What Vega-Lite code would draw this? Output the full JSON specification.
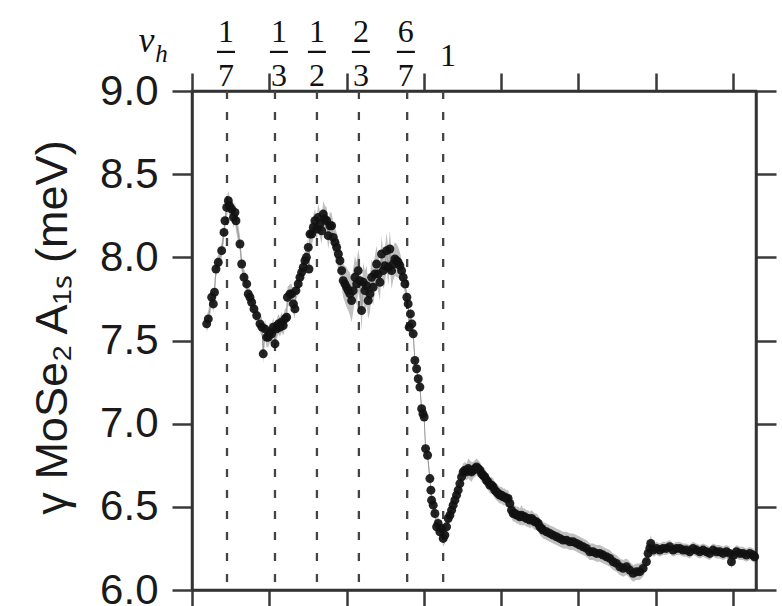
{
  "$schema": "https://vega.github.io/schema/vega-lite/v6.json",
  "width": 564,
  "height": 499,
  "autosize": "none",
  "padding": {"left": 192, "top": 91, "right": 26, "bottom": 16},
  "background": "white",
  "config": {"view": {"stroke": "#333", "strokeWidth": 2.5}, "axis": {"grid": false}},
  "datasets": {
    "series": [
      {"x":0.190,"y":7.60,"e":0.05},{"x":0.211,"y":7.63,"e":0.05},{"x":0.255,"y":7.76,"e":0.05},{"x":0.276,"y":7.72,"e":0.05},{"x":0.291,"y":7.79,"e":0.05},{"x":0.310,"y":7.93,"e":0.05},{"x":0.340,"y":7.97,"e":0.05},{"x":0.384,"y":8.04,"e":0.05},{"x":0.414,"y":8.15,"e":0.05},{"x":0.427,"y":8.22,"e":0.05},{"x":0.449,"y":8.30,"e":0.06},{"x":0.470,"y":8.34,"e":0.06},{"x":0.485,"y":8.31,"e":0.06},{"x":0.514,"y":8.29,"e":0.06},{"x":0.537,"y":8.24,"e":0.06},{"x":0.556,"y":8.27,"e":0.06},{"x":0.569,"y":8.22,"e":0.06},{"x":0.621,"y":8.08,"e":0.05},{"x":0.643,"y":7.96,"e":0.05},{"x":0.673,"y":7.88,"e":0.05},{"x":0.708,"y":7.84,"e":0.05},{"x":0.728,"y":7.78,"e":0.05},{"x":0.750,"y":7.76,"e":0.05},{"x":0.772,"y":7.73,"e":0.05},{"x":0.802,"y":7.69,"e":0.05},{"x":0.837,"y":7.65,"e":0.05},{"x":0.880,"y":7.60,"e":0.05},{"x":0.906,"y":7.58,"e":0.06},{"x":0.922,"y":7.42,"e":0.06},{"x":0.944,"y":7.57,"e":0.06},{"x":0.966,"y":7.52,"e":0.06},{"x":0.987,"y":7.52,"e":0.06},{"x":1.009,"y":7.55,"e":0.06},{"x":1.031,"y":7.54,"e":0.06},{"x":1.054,"y":7.58,"e":0.06},{"x":1.074,"y":7.48,"e":0.06},{"x":1.096,"y":7.57,"e":0.06},{"x":1.119,"y":7.60,"e":0.06},{"x":1.138,"y":7.58,"e":0.06},{"x":1.158,"y":7.61,"e":0.06},{"x":1.181,"y":7.59,"e":0.06},{"x":1.203,"y":7.63,"e":0.06},{"x":1.225,"y":7.64,"e":0.06},{"x":1.235,"y":7.76,"e":0.06},{"x":1.268,"y":7.78,"e":0.06},{"x":1.290,"y":7.78,"e":0.06},{"x":1.313,"y":7.72,"e":0.06},{"x":1.332,"y":7.69,"e":0.06},{"x":1.345,"y":7.80,"e":0.06},{"x":1.375,"y":7.84,"e":0.06},{"x":1.397,"y":7.88,"e":0.06},{"x":1.419,"y":7.91,"e":0.06},{"x":1.440,"y":7.94,"e":0.06},{"x":1.462,"y":7.98,"e":0.06},{"x":1.481,"y":8.00,"e":0.06},{"x":1.505,"y":8.06,"e":0.06},{"x":1.514,"y":7.93,"e":0.06},{"x":1.527,"y":8.14,"e":0.07},{"x":1.549,"y":8.14,"e":0.07},{"x":1.570,"y":8.18,"e":0.07},{"x":1.591,"y":8.22,"e":0.07},{"x":1.613,"y":8.17,"e":0.07},{"x":1.634,"y":8.24,"e":0.08},{"x":1.656,"y":8.20,"e":0.08},{"x":1.678,"y":8.16,"e":0.08},{"x":1.699,"y":8.26,"e":0.08},{"x":1.721,"y":8.23,"e":0.08},{"x":1.743,"y":8.22,"e":0.08},{"x":1.763,"y":8.13,"e":0.08},{"x":1.785,"y":8.19,"e":0.08},{"x":1.807,"y":8.19,"e":0.08},{"x":1.828,"y":8.12,"e":0.09},{"x":1.850,"y":8.09,"e":0.09},{"x":1.872,"y":8.06,"e":0.09},{"x":1.895,"y":8.02,"e":0.09},{"x":1.915,"y":7.98,"e":0.10},{"x":1.937,"y":7.92,"e":0.10},{"x":1.957,"y":7.86,"e":0.10},{"x":1.979,"y":7.84,"e":0.11},{"x":2.001,"y":7.82,"e":0.12},{"x":2.022,"y":7.80,"e":0.12},{"x":2.044,"y":7.78,"e":0.13},{"x":2.066,"y":7.74,"e":0.13},{"x":2.086,"y":7.80,"e":0.13},{"x":2.109,"y":7.88,"e":0.13},{"x":2.131,"y":7.84,"e":0.13},{"x":2.151,"y":7.92,"e":0.13},{"x":2.173,"y":7.86,"e":0.13},{"x":2.195,"y":7.68,"e":0.12},{"x":2.216,"y":7.85,"e":0.12},{"x":2.238,"y":7.80,"e":0.12},{"x":2.260,"y":7.83,"e":0.12},{"x":2.281,"y":7.74,"e":0.11},{"x":2.303,"y":7.78,"e":0.11},{"x":2.325,"y":7.88,"e":0.11},{"x":2.345,"y":7.82,"e":0.11},{"x":2.367,"y":7.90,"e":0.11},{"x":2.389,"y":7.96,"e":0.11},{"x":2.410,"y":7.90,"e":0.11},{"x":2.432,"y":7.85,"e":0.11},{"x":2.454,"y":8.02,"e":0.11},{"x":2.475,"y":7.92,"e":0.11},{"x":2.497,"y":7.95,"e":0.11},{"x":2.519,"y":8.04,"e":0.11},{"x":2.540,"y":7.94,"e":0.11},{"x":2.561,"y":8.05,"e":0.11},{"x":2.583,"y":7.92,"e":0.11},{"x":2.604,"y":7.96,"e":0.10},{"x":2.626,"y":7.99,"e":0.10},{"x":2.648,"y":7.98,"e":0.10},{"x":2.669,"y":7.97,"e":0.09},{"x":2.691,"y":7.95,"e":0.08},{"x":2.713,"y":7.92,"e":0.07},{"x":2.734,"y":7.88,"e":0.06},{"x":2.756,"y":7.84,"e":0.05},{"x":2.781,"y":7.76,"e":0.04},{"x":2.798,"y":7.72,"e":0.04},{"x":2.811,"y":7.58,"e":0.04},{"x":2.827,"y":7.66,"e":0.04},{"x":2.846,"y":7.60,"e":0.04},{"x":2.863,"y":7.54,"e":0.04},{"x":2.885,"y":7.38,"e":0.03},{"x":2.907,"y":7.33,"e":0.03},{"x":2.928,"y":7.27,"e":0.03},{"x":2.950,"y":7.22,"e":0.03},{"x":2.972,"y":7.09,"e":0.03},{"x":2.989,"y":7.06,"e":0.03},{"x":3.005,"y":7.04,"e":0.03},{"x":3.023,"y":6.85,"e":0.03},{"x":3.049,"y":6.81,"e":0.03},{"x":3.079,"y":6.67,"e":0.03},{"x":3.092,"y":6.60,"e":0.03},{"x":3.101,"y":6.54,"e":0.04},{"x":3.122,"y":6.51,"e":0.04},{"x":3.144,"y":6.46,"e":0.04},{"x":3.166,"y":6.38,"e":0.05},{"x":3.186,"y":6.40,"e":0.05},{"x":3.208,"y":6.35,"e":0.05},{"x":3.230,"y":6.37,"e":0.05},{"x":3.251,"y":6.31,"e":0.05},{"x":3.273,"y":6.33,"e":0.05},{"x":3.295,"y":6.38,"e":0.05},{"x":3.316,"y":6.43,"e":0.04},{"x":3.338,"y":6.45,"e":0.04},{"x":3.360,"y":6.48,"e":0.04},{"x":3.380,"y":6.51,"e":0.04},{"x":3.402,"y":6.54,"e":0.04},{"x":3.424,"y":6.57,"e":0.04},{"x":3.445,"y":6.60,"e":0.04},{"x":3.467,"y":6.64,"e":0.04},{"x":3.489,"y":6.68,"e":0.05},{"x":3.510,"y":6.71,"e":0.05},{"x":3.532,"y":6.72,"e":0.05},{"x":3.554,"y":6.71,"e":0.05},{"x":3.575,"y":6.73,"e":0.06},{"x":3.596,"y":6.72,"e":0.06},{"x":3.618,"y":6.71,"e":0.06},{"x":3.639,"y":6.72,"e":0.05},{"x":3.661,"y":6.73,"e":0.05},{"x":3.683,"y":6.74,"e":0.05},{"x":3.704,"y":6.73,"e":0.05},{"x":3.726,"y":6.72,"e":0.05},{"x":3.748,"y":6.70,"e":0.05},{"x":3.768,"y":6.69,"e":0.05},{"x":3.790,"y":6.68,"e":0.05},{"x":3.812,"y":6.66,"e":0.05},{"x":3.833,"y":6.65,"e":0.05},{"x":3.855,"y":6.63,"e":0.05},{"x":3.877,"y":6.63,"e":0.05},{"x":3.898,"y":6.62,"e":0.05},{"x":3.920,"y":6.60,"e":0.05},{"x":3.942,"y":6.59,"e":0.05},{"x":3.962,"y":6.58,"e":0.05},{"x":3.984,"y":6.57,"e":0.05},{"x":4.006,"y":6.57,"e":0.05},{"x":4.027,"y":6.56,"e":0.05},{"x":4.049,"y":6.56,"e":0.05},{"x":4.071,"y":6.55,"e":0.05},{"x":4.092,"y":6.55,"e":0.05},{"x":4.114,"y":6.52,"e":0.05},{"x":4.136,"y":6.48,"e":0.05},{"x":4.157,"y":6.46,"e":0.05},{"x":4.179,"y":6.46,"e":0.05},{"x":4.201,"y":6.45,"e":0.05},{"x":4.221,"y":6.45,"e":0.05},{"x":4.243,"y":6.44,"e":0.05},{"x":4.265,"y":6.45,"e":0.06},{"x":4.286,"y":6.44,"e":0.05},{"x":4.308,"y":6.44,"e":0.05},{"x":4.330,"y":6.43,"e":0.05},{"x":4.351,"y":6.43,"e":0.05},{"x":4.373,"y":6.42,"e":0.05},{"x":4.395,"y":6.43,"e":0.05},{"x":4.415,"y":6.42,"e":0.05},{"x":4.437,"y":6.41,"e":0.05},{"x":4.459,"y":6.41,"e":0.05},{"x":4.480,"y":6.40,"e":0.05},{"x":4.502,"y":6.38,"e":0.05},{"x":4.524,"y":6.37,"e":0.05},{"x":4.545,"y":6.36,"e":0.05},{"x":4.589,"y":6.35,"e":0.05},{"x":4.631,"y":6.34,"e":0.05},{"x":4.674,"y":6.33,"e":0.05},{"x":4.718,"y":6.32,"e":0.05},{"x":4.761,"y":6.31,"e":0.05},{"x":4.803,"y":6.30,"e":0.05},{"x":4.847,"y":6.30,"e":0.05},{"x":4.890,"y":6.29,"e":0.05},{"x":4.933,"y":6.29,"e":0.05},{"x":4.977,"y":6.28,"e":0.05},{"x":5.019,"y":6.27,"e":0.05},{"x":5.062,"y":6.26,"e":0.05},{"x":5.106,"y":6.25,"e":0.05},{"x":5.149,"y":6.23,"e":0.05},{"x":5.192,"y":6.23,"e":0.05},{"x":5.235,"y":6.22,"e":0.05},{"x":5.278,"y":6.22,"e":0.05},{"x":5.321,"y":6.21,"e":0.05},{"x":5.365,"y":6.20,"e":0.05},{"x":5.408,"y":6.19,"e":0.05},{"x":5.451,"y":6.17,"e":0.05},{"x":5.494,"y":6.16,"e":0.05},{"x":5.537,"y":6.14,"e":0.05},{"x":5.580,"y":6.13,"e":0.05},{"x":5.624,"y":6.14,"e":0.05},{"x":5.667,"y":6.12,"e":0.05},{"x":5.709,"y":6.10,"e":0.05},{"x":5.753,"y":6.11,"e":0.05},{"x":5.796,"y":6.11,"e":0.05},{"x":5.839,"y":6.13,"e":0.05},{"x":5.882,"y":6.17,"e":0.05},{"x":5.903,"y":6.22,"e":0.05},{"x":5.925,"y":6.25,"e":0.05},{"x":5.938,"y":6.28,"e":0.05},{"x":5.968,"y":6.24,"e":0.04},{"x":6.012,"y":6.25,"e":0.04},{"x":6.054,"y":6.24,"e":0.04},{"x":6.097,"y":6.25,"e":0.04},{"x":6.141,"y":6.25,"e":0.04},{"x":6.184,"y":6.26,"e":0.04},{"x":6.226,"y":6.24,"e":0.04},{"x":6.270,"y":6.25,"e":0.04},{"x":6.313,"y":6.25,"e":0.04},{"x":6.356,"y":6.24,"e":0.04},{"x":6.400,"y":6.24,"e":0.04},{"x":6.442,"y":6.23,"e":0.04},{"x":6.485,"y":6.25,"e":0.04},{"x":6.529,"y":6.24,"e":0.04},{"x":6.572,"y":6.23,"e":0.04},{"x":6.615,"y":6.24,"e":0.04},{"x":6.658,"y":6.23,"e":0.04},{"x":6.701,"y":6.22,"e":0.04},{"x":6.744,"y":6.24,"e":0.04},{"x":6.788,"y":6.23,"e":0.04},{"x":6.831,"y":6.23,"e":0.04},{"x":6.874,"y":6.22,"e":0.04},{"x":6.917,"y":6.23,"e":0.04},{"x":6.960,"y":6.22,"e":0.04},{"x":6.982,"y":6.17,"e":0.04},{"x":7.012,"y":6.21,"e":0.04},{"x":7.047,"y":6.23,"e":0.04},{"x":7.089,"y":6.22,"e":0.04},{"x":7.132,"y":6.22,"e":0.04},{"x":7.176,"y":6.21,"e":0.04},{"x":7.219,"y":6.22,"e":0.04},{"x":7.262,"y":6.21,"e":0.04},{"x":7.283,"y":6.20,"e":0.04}
    ],
    "guides": [{"x":0.453},{"x":1.074},{"x":1.617},{"x":2.160},{"x":2.785},{"x":3.251}],
    "fracs": [
      {"x":0.440,"n":"1","d":"7"},
      {"x":1.125,"n":"1","d":"3"},
      {"x":1.617,"n":"1","d":"2"},
      {"x":2.186,"n":"2","d":"3"},
      {"x":2.768,"n":"6","d":"7"}
    ]
  },
  "layer": [
    {
      "data": {"name": "series"},
      "mark": {"type": "errorband", "band": {"color": "#b0b0b0", "opacity": 0.8}},
      "encoding": {
        "x": {"field": "x", "type": "quantitative", "scale": {"domain": [0, 7.3], "nice": false, "zero": false},
          "axis": {"orient": "bottom", "values": [0,1,2,3,4,5,6,7], "labels": false, "title": null, "tickSize": 16, "tickWidth": 2.5, "tickColor": "#3a3a3a", "domainColor": "#333", "domainWidth": 2.5}},
        "y": {"field": "y", "type": "quantitative", "scale": {"domain": [6, 9], "nice": false, "zero": false},
          "axis": {"orient": "left", "values": [6,6.5,7,7.5,8,8.5,9], "format": ".1f", "labelFont": "Liberation Sans", "labelFontSize": 42, "labelColor": "#1a1a1a", "labelPadding": 14, "tickSize": 20, "tickWidth": 2.5, "tickColor": "#3a3a3a", "domainColor": "#333", "domainWidth": 2.5, "title": "γ MoSe₂ A₁ₛ (meV)", "titleFont": "Liberation Sans", "titleFontSize": 45, "titleFontWeight": "normal", "titleColor": "#1a1a1a", "titlePadding": 24, "titleY": 236}},
        "yError": {"field": "e"}
      }
    },
    {
      "data": {"name": "series"},
      "mark": {"type": "line", "color": "#9a9a9a", "strokeWidth": 1},
      "encoding": {
        "x": {"field": "x", "type": "quantitative",
          "axis": {"orient": "top", "values": [0,1,2,3,4,5,6,7], "labels": false, "title": null, "tickSize": 18, "tickWidth": 2.5, "tickColor": "#3a3a3a", "domainColor": "#333", "domainWidth": 2.5}},
        "y": {"field": "y", "type": "quantitative",
          "axis": {"orient": "right", "values": [6,6.5,7,7.5,8,8.5,9], "labels": false, "title": null, "tickSize": 20, "tickWidth": 2.5, "tickColor": "#3a3a3a", "domainColor": "#333", "domainWidth": 2.5}}
      }
    },
    {
      "data": {"name": "guides"},
      "mark": {"type": "rule", "color": "#444", "strokeWidth": 2.3, "strokeDash": [8, 13]},
      "encoding": {
        "x": {"field": "x", "type": "quantitative", "axis": null}
      }
    },
    {
      "data": {"name": "series"},
      "mark": {"type": "circle", "size": 80, "color": "#111", "opacity": 0.92},
      "encoding": {
        "x": {"field": "x", "type": "quantitative", "axis": null},
        "y": {"field": "y", "type": "quantitative", "axis": null}
      }
    },
    {
      "data": {"name": "fracs"},
      "mark": {"type": "text", "font": "Liberation Serif", "fontSize": 32, "baseline": "middle", "align": "center", "color": "#111"},
      "encoding": {
        "x": {"field": "x", "type": "quantitative", "axis": null},
        "y": {"datum": 9.355, "type": "quantitative", "axis": null},
        "text": {"field": "n"}
      }
    },
    {
      "data": {"name": "fracs"},
      "mark": {"type": "tick", "orient": "horizontal", "size": 18, "thickness": 2.2, "color": "#111", "opacity": 1},
      "encoding": {
        "x": {"field": "x", "type": "quantitative", "axis": null},
        "y": {"datum": 9.235, "type": "quantitative", "axis": null}
      }
    },
    {
      "data": {"name": "fracs"},
      "mark": {"type": "text", "font": "Liberation Serif", "fontSize": 32, "baseline": "middle", "align": "center", "color": "#111"},
      "encoding": {
        "x": {"field": "x", "type": "quantitative", "axis": null},
        "y": {"datum": 9.09, "type": "quantitative", "axis": null},
        "text": {"field": "d"}
      }
    },
    {
      "data": {"values": [{"t": "1"}]},
      "mark": {"type": "text", "font": "Liberation Serif", "fontSize": 32, "baseline": "middle", "align": "center", "color": "#111"},
      "encoding": {
        "x": {"datum": 3.312, "type": "quantitative", "axis": null},
        "y": {"datum": 9.21, "type": "quantitative", "axis": null},
        "text": {"field": "t"}
      }
    },
    {
      "data": {"values": [{"t": "ν"}]},
      "mark": {"type": "text", "font": "Liberation Serif", "fontSize": 36, "fontStyle": "italic", "baseline": "alphabetic", "align": "center", "color": "#111"},
      "encoding": {
        "x": {"datum": -0.59, "type": "quantitative", "axis": null},
        "y": {"datum": 9.235, "type": "quantitative", "axis": null},
        "text": {"field": "t"}
      }
    },
    {
      "data": {"values": [{"t": "h"}]},
      "mark": {"type": "text", "font": "Liberation Serif", "fontSize": 25, "fontStyle": "italic", "baseline": "alphabetic", "align": "center", "color": "#111"},
      "encoding": {
        "x": {"datum": -0.395, "type": "quantitative", "axis": null},
        "y": {"datum": 9.175, "type": "quantitative", "axis": null},
        "text": {"field": "t"}
      }
    }
  ],
  "resolve": {"axis": {"x": "independent", "y": "independent"}}
}
